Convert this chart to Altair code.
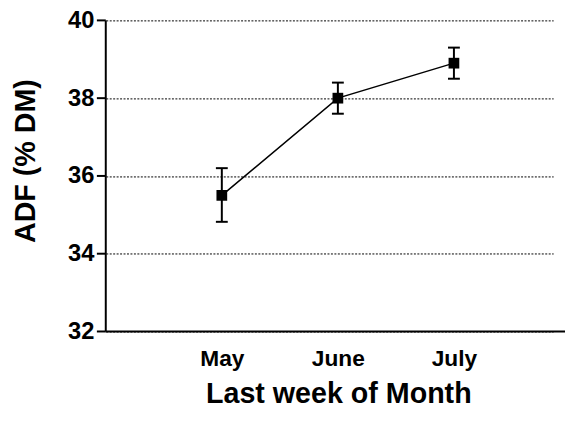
import altair as alt
import pandas as pd

months = ["May", "June", "July"]
positions = [1, 2, 3]
adf_mean = [35.5, 38.0, 38.9]
adf_low = [34.82, 37.6, 38.5]
adf_high = [36.2, 38.4, 39.3]
y_ticks = [32, 34, 36, 38, 40]

df = pd.DataFrame({"pos": positions, "month": months, "mean": adf_mean,
                   "low": adf_low, "high": adf_high})
ticks_df = pd.DataFrame({"v": y_ticks})
yrange_df = pd.DataFrame({"lo": [y_ticks[0]], "hi": [y_ticks[-1]]})

label_expr = " : ".join(
    f"datum.value == {p} ? '{m}'" for p, m in zip(positions, months)) + " : ''"

FONT = "Liberation Sans"
yscale = alt.Scale(domain=[32, 40], nice=False, zero=False)

x = alt.X("pos:Q", scale=alt.Scale(domain=[0, 3.855], nice=False, zero=False),
          axis=alt.Axis(values=positions, labelExpr=label_expr,
                        title="Last week of Month"))
y = alt.Y("mean:Q", scale=yscale,
          axis=alt.Axis(values=y_ticks, title="ADF (% DM)"))

base = alt.Chart(df)

line = base.mark_line(color="black", strokeWidth=1.5).encode(x=x, y=y)
points = base.mark_point(shape="square", filled=True, color="black", size=118,
                         opacity=1).encode(x=x, y=y)
err = base.mark_rule(color="black", strokeWidth=2).encode(
    x=x, y=alt.Y("low:Q", scale=yscale), y2="high:Q")
cap_lo = base.mark_tick(color="black", orient="horizontal", size=12, thickness=2,
                        opacity=1).encode(x=x, y=alt.Y("low:Q"))
cap_hi = base.mark_tick(color="black", orient="horizontal", size=12, thickness=2,
                        opacity=1).encode(x=x, y=alt.Y("high:Q"))
xaxis_line = alt.Chart(yrange_df).mark_rule(color="black", strokeWidth=2).encode(
    x=alt.value(0), x2=alt.value(465), y=alt.Y("lo:Q"))
yaxis_line = alt.Chart(yrange_df).mark_rule(color="black", strokeWidth=2).encode(
    x=alt.value(0), y=alt.Y("lo:Q"), y2="hi:Q")
yaxis_ticks = alt.Chart(ticks_df).mark_rule(color="black", strokeWidth=2).encode(
    x=alt.value(-9), x2=alt.value(0), y=alt.Y("v:Q"))

chart = alt.layer(line, err, cap_lo, cap_hi, points, xaxis_line, yaxis_line,
                  yaxis_ticks).properties(
    width=453, height=315,
    autosize=alt.AutoSizeParams(type="none"),
    padding={"left": 99, "top": 10, "right": 12, "bottom": 80},
    background="white",
).configure_view(stroke=None).configure_axisX(
    domain=False, ticks=False, grid=False,
    labelFontSize=23, labelFont=FONT, labelFontWeight="bold",
    labelColor="black", labelPadding=16,
    titleFontSize=29, titleFont=FONT, titleFontWeight="bold", titleColor="black",
    titleX=235.5, titleY=72, titleBaseline="alphabetic",
    titleAnchor="start", titleAlign="center",
).configure_axisY(
    domain=False, ticks=False,
    labelFontSize=24, labelFont=FONT, labelFontWeight="bold",
    labelColor="black", labelPadding=12,
    grid=True, gridColor="black", gridDash=[2, 1.5], gridWidth=1, gridOpacity=1,
    titleFontSize=29, titleFont=FONT, titleFontWeight="bold", titleColor="black",
    titleAngle=270, titleX=-72, titleY=142,
    titleBaseline="alphabetic", titleAlign="center",
)

chart.save("out.html", embed_options={"renderer": "svg", "actions": False})
